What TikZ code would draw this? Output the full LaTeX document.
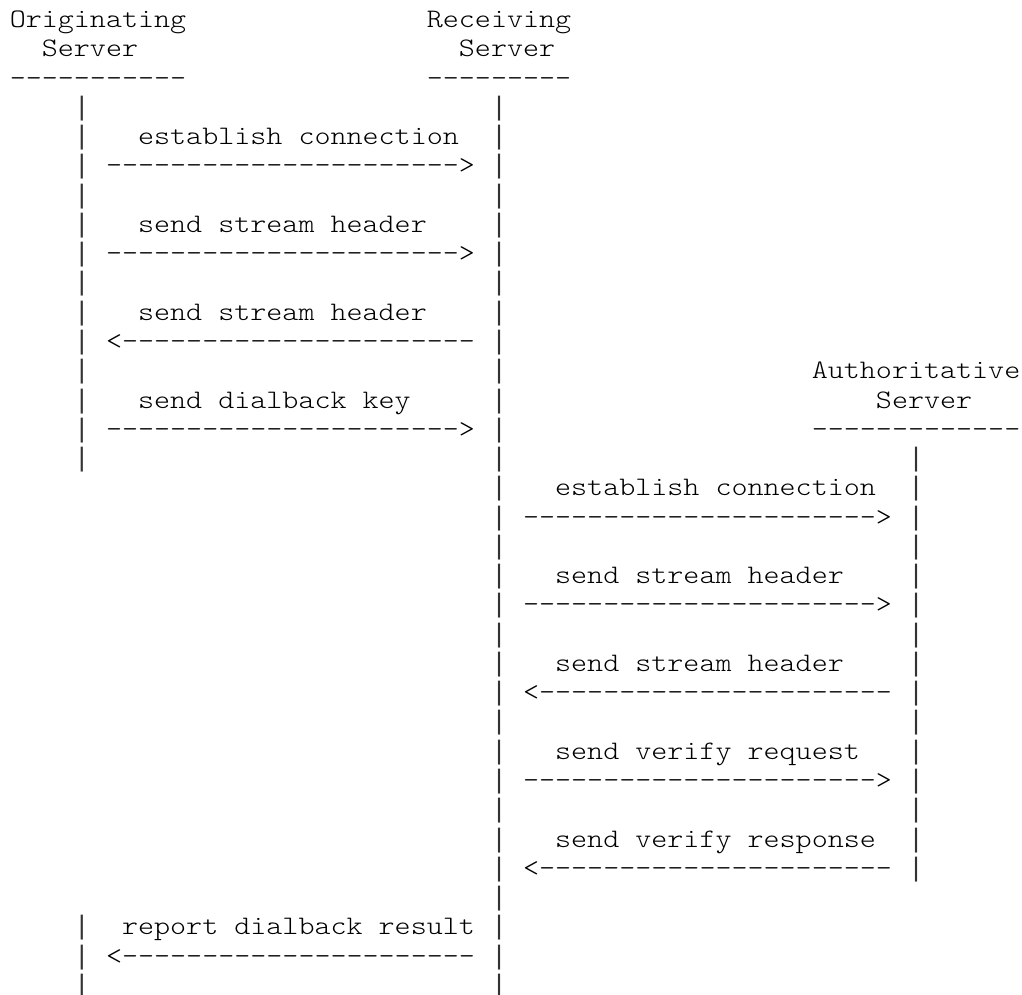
\documentclass[tikz,border=0pt]{standalone}
\usepackage{fontspec}
\setmonofont{Liberation Mono}
\newfontfamily\courfont{lmmonolt10-regular.otf}[FakeStretch=1.1429]
\tikzset{
  txt/.style={anchor=base west, inner sep=0pt, outer sep=0pt,
    font=\courfont\fontsize{26.73}{29.27}\selectfont, text=black},
  bar/.style={anchor=base west, inner sep=0pt, outer sep=0pt,
    font=\ttfamily\fontsize{26.73}{29.27}\selectfont, text=black!80}}
\newcommand\cw{16.04}
\newcommand\xo{9.8}
\newcommand\rp{29.27}
\newcommand\bo{27.5}
\newcommand\putcell[4]{\node[txt] (#1) at ({(\xo+#2*\cw)*1pt},{-(\bo+#3*\rp)*1pt}) {#4};}
\newcommand\putbar[3]{\node[bar] (#1) at ({(\xo+#2*\cw)*1pt},{-(\bo+#3*\rp)*1pt}) {|};}
\newcommand\arR{---------------------->}
\newcommand\arL{<----------------------}
\begin{document}
\begin{tikzpicture}
\useasboundingbox (0,0) rectangle (1022pt,-995pt);
% headers
\putcell{orig}{0}{0}{Originating}
\putcell{origS}{2}{1}{Server}
\putcell{origD}{0}{2}{-----------}
\putcell{recv}{26}{0}{Receiving}
\putcell{recvS}{28}{1}{Server}
\putcell{recvD}{26}{2}{---------}
\putcell{auth}{50}{12}{Authoritative}
\putcell{authS}{54}{13}{Server}
\putcell{authD}{50}{14}{-------------}
% lifelines
\foreach \r in {3,...,15,31,32,33} {\putbar{pL\r}{4}{\r}}
\foreach \r in {3,...,33} {\putbar{pM\r}{30}{\r}}
\foreach \r in {15,...,29} {\putbar{pR\r}{56}{\r}}
% originating <-> receiving
\putcell{m1}{8}{4}{establish connection}
\putcell{a1}{6}{5}{\arR}
\putcell{m2}{8}{7}{send stream header}
\putcell{a2}{6}{8}{\arR}
\putcell{m3}{8}{10}{send stream header}
\putcell{a3}{6}{11}{\arL}
\putcell{m4}{8}{13}{send dialback key}
\putcell{a4}{6}{14}{\arR}
% receiving <-> authoritative
\putcell{m5}{34}{16}{establish connection}
\putcell{a5}{32}{17}{\arR}
\putcell{m6}{34}{19}{send stream header}
\putcell{a6}{32}{20}{\arR}
\putcell{m7}{34}{22}{send stream header}
\putcell{a7}{32}{23}{\arL}
\putcell{m8}{34}{25}{send verify request}
\putcell{a8}{32}{26}{\arR}
\putcell{m9}{34}{28}{send verify response}
\putcell{a9}{32}{29}{\arL}
% result
\putcell{m10}{7}{31}{report dialback result}
\putcell{a10}{6}{32}{\arL}
\end{tikzpicture}
\end{document}
